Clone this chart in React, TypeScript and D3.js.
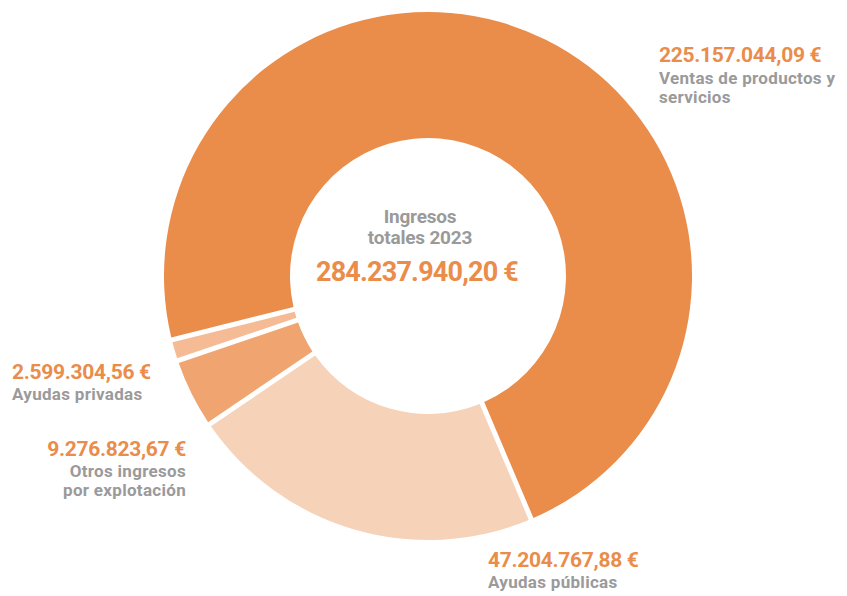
import React from 'react';
import * as d3 from 'd3';

// slice order goes clockwise, starting at the big one
const categories = ['Ventas de productos y servicios', 'Ayudas públicas', 'Otros ingresos por explotación', 'Ayudas privadas'];
const amounts = ['225.157.044,09 €', '47.204.767,88 €', '9.276.823,67 €', '2.599.304,56 €'];
// share of the ring each slice takes in the picture (in %)
const sliceShare = [72.5, 21.9, 4.3, 1.3];
const colors = ['#EA8C4A', '#F6D2B8', '#F0A571', '#F4BB94'];
const centerTitle = ['Ingresos', 'totales 2023'];
const centerTotal = '284.237.940,20 €';

const W = 847;
const H = 596;
const cx = 428;
const cy = 276;
const outerR = 264;
const innerR = 138;

const orange = '#EA8C4A';
const grey = '#9A9A9A';
const font = 'Roboto, sans-serif';

const App = () => {
  const pie = d3
    .pie<number>()
    .sort(null)
    .value(d => d)
    .startAngle((-104 * Math.PI) / 180)
    .endAngle((256 * Math.PI) / 180);

  const arc = d3
    .arc<d3.PieArcDatum<number>>()
    .innerRadius(innerR)
    .outerRadius(outerR)
    .padRadius(200)
    .padAngle(5 / 200);

  const arcs = pie(sliceShare);

  // label blocks next to the ring
  const labels = [
    { x: 659, y: 62, anchor: 'start', value: amounts[0], lines: ['Ventas de productos y', 'servicios'], gap: 22 },
    { x: 488, y: 567, anchor: 'start', value: amounts[1], lines: ['Ayudas públicas'], gap: 21 },
    { x: 186, y: 456, anchor: 'end', value: amounts[2], lines: ['Otros ingresos', 'por explotación'], gap: 21 },
    { x: 12, y: 379, anchor: 'start', value: amounts[3], lines: ['Ayudas privadas'], gap: 21 },
  ];

  return (
    <svg width={W} height={H} style={{ position: 'absolute', left: 0, top: 0 }}>
      <g transform={`translate(${cx},${cy})`}>
        {arcs.map((a, i) => (
          <path key={categories[i]} d={arc(a) || ''} fill={colors[i]} />
        ))}
      </g>

      <g fontFamily={font} textAnchor="middle">
        {centerTitle.map((t, i) => (
          <text key={t} x={420} y={223 + i * 21} fontSize={19} fontWeight={700} fill={grey} letterSpacing={-0.2}>
            {t}
          </text>
        ))}
        <text x={417} y={281} fontSize={27} fontWeight={700} fill={orange} letterSpacing={-0.8}>
          {centerTotal}
        </text>
      </g>

      <g fontFamily={font}>
        {labels.map(l => (
          <g key={l.value} textAnchor={l.anchor}>
            <text x={l.x} y={l.y} fontSize={21} fontWeight={700} fill={orange} letterSpacing={-0.3}>
              {l.value}
            </text>
            {l.lines.map((line, j) => (
              <text key={line} x={l.x} y={l.y + l.gap + j * 18.5} fontSize={17} fontWeight={700} fill={grey} letterSpacing={0.3}>
                {line}
              </text>
            ))}
          </g>
        ))}
      </g>
    </svg>
  );
};

export default App;
